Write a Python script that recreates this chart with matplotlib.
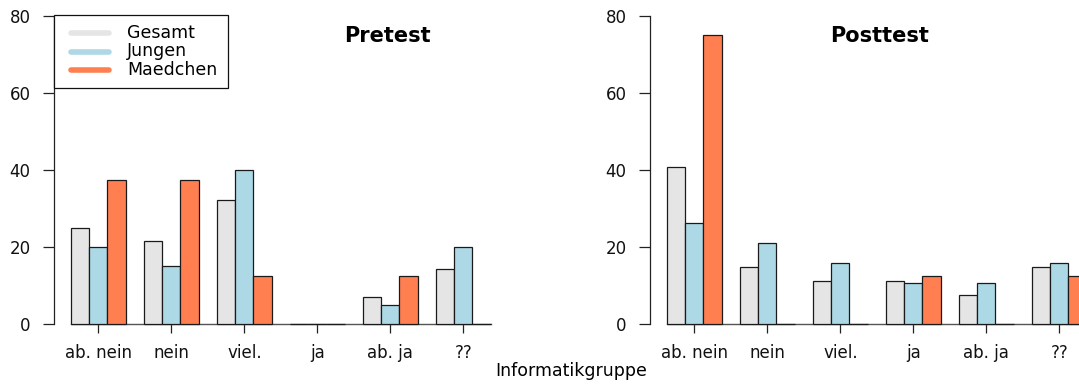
import matplotlib
matplotlib.use("Agg")
import matplotlib.pyplot as plt
from matplotlib.lines import Line2D
from matplotlib.patches import Rectangle

# Percentages per answer category
categories = ["ab. nein", "nein", "viel.", "ja", "ab. ja", "??"]
series_names = ["Gesamt", "Jungen", "Maedchen"]
series_colors = ["#E5E5E5", "#ADD8E6", "#FF7F50"]

pre_gesamt = [25.00, 21.43, 32.14, 0.0, 7.14, 14.29]
pre_jungen = [20.0, 15.0, 40.0, 0.0, 5.0, 20.0]
pre_maedchen = [37.5, 37.5, 12.5, 0.0, 12.5, 0.0]

post_gesamt = [40.74, 14.81, 11.11, 11.11, 7.41, 14.81]
post_jungen = [26.32, 21.05, 15.79, 10.53, 10.53, 15.79]
post_maedchen = [75.0, 0.0, 0.0, 12.5, 0.0, 12.5]

yticks = [0, 20, 40, 60, 80]

W, H = 1079, 385
plt.rcParams["font.family"] = ["DejaVu Sans"]

fig = plt.figure(figsize=(W / 100, H / 100), dpi=100)


def fx(px):
    return px / W


def fy(py):
    return 1 - py / H


unit = 18.25          # pixels per bar width
x0, x1 = 0.07, 24.93  # horizontal data range of each panel


def panel(left_px, values, title, title_x):
    ax = fig.add_axes([fx(left_px), fy(324), (x1 - x0) * unit / W, (324 - 16) / H])
    ax.set_xlim(x0, x1)
    ax.set_ylim(0, 80)
    centers = []
    for i in range(len(categories)):
        centers.append(4 * i + 2.5)
        for j, vals in enumerate(values):
            ax.bar(4 * i + 1.5 + j, vals[i], width=1.0, color=series_colors[j],
                   edgecolor="#1a1a1a", linewidth=0.9, clip_on=False, zorder=3)
    ax.plot([1, 4 * len(categories)], [0, 0], color="#555555", lw=1.0,
            clip_on=False, zorder=2)
    for s in ["top", "right", "bottom"]:
        ax.spines[s].set_visible(False)
    ax.spines["left"].set_bounds(0, 80)
    ax.spines["left"].set_color("#222222")
    ax.spines["left"].set_linewidth(0.9)
    ax.set_yticks(yticks)
    ax.set_yticklabels([str(t) for t in yticks])
    ax.set_xticks(centers)
    ax.set_xticklabels(categories)
    ax.tick_params(axis="y", length=8, width=0.9, color="#222222", pad=9,
                   labelsize=12, labelcolor="#111111")
    ax.tick_params(axis="x", length=6.5, width=0.9, color="#222222", pad=8,
                   labelsize=12, labelcolor="#111111")
    ax.patch.set_alpha(0)
    fig.text(fx(title_x), fy(36), title, ha="center", va="center",
             fontsize=15, fontweight="bold")
    return ax


panel(54, [pre_gesamt, pre_jungen, pre_maedchen], "Pretest", 387)
panel(650, [post_gesamt, post_jungen, post_maedchen], "Posttest", 880)

fig.text(fx(571), fy(371), "Informatikgruppe", ha="center", va="center",
         fontsize=12.5)

# Legend box
fig.patches.append(Rectangle((fx(54), fy(88)), fx(228) - fx(54), fy(15) - fy(88),
                             transform=fig.transFigure, facecolor="white",
                             edgecolor="#111111", linewidth=0.9, zorder=5))
for k, name in enumerate(series_names):
    yy = fy(33 + 18.5 * k)
    fig.add_artist(Line2D([fx(71), fx(109)], [yy, yy], transform=fig.transFigure,
                          color=series_colors[k], lw=4, solid_capstyle="round",
                          zorder=6))
    fig.text(fx(127), yy, name, ha="left", va="center", fontsize=12.5, zorder=6)

fig.savefig("out.png", dpi=100)
